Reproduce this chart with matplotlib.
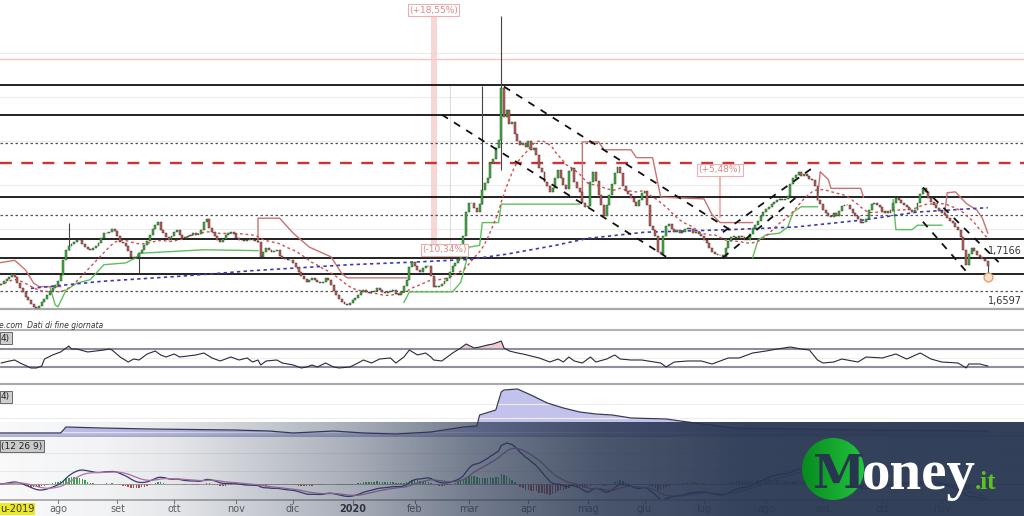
import numpy as np
import pandas as pd
import matplotlib
matplotlib.use('Agg')
import matplotlib.pyplot as plt
from matplotlib.patches import Circle
from matplotlib.transforms import blended_transform_factory as blend

# ---------------- data ----------------
start_date = '2019-07-02'
closes = [
    1.686, 1.687, 1.690, 1.693, 1.695, 1.698, 1.695, 1.688, 1.682, 1.678,
    1.672, 1.669, 1.664, 1.661, 1.660, 1.662, 1.666, 1.670, 1.674, 1.679,
    1.682, 1.686, 1.690, 1.697, 1.714, 1.726, 1.730, 1.733, 1.735, 1.737,
    1.737, 1.733, 1.729, 1.727, 1.726, 1.728, 1.730, 1.734, 1.739, 1.745,
    1.745, 1.746, 1.750, 1.747, 1.742, 1.735, 1.734, 1.730, 1.725, 1.718,
    1.717, 1.718, 1.722, 1.726, 1.731, 1.736, 1.743, 1.750, 1.754, 1.758,
    1.749, 1.745, 1.741, 1.737, 1.742, 1.746, 1.749, 1.743, 1.739, 1.741,
    1.742, 1.743, 1.745, 1.743, 1.744, 1.749, 1.758, 1.761, 1.751, 1.746,
    1.742, 1.737, 1.735, 1.738, 1.743, 1.745, 1.746, 1.744, 1.739, 1.737,
    1.737, 1.736, 1.737, 1.738, 1.737, 1.736, 1.735, 1.718, 1.723, 1.728,
    1.726, 1.723, 1.725, 1.726, 1.719, 1.717, 1.715, 1.714, 1.714, 1.711,
    1.706, 1.701, 1.696, 1.693, 1.689, 1.692, 1.694, 1.692, 1.689, 1.688,
    1.689, 1.694, 1.692, 1.686, 1.679, 1.674, 1.670, 1.666, 1.664, 1.663,
    1.665, 1.669, 1.671, 1.674, 1.678, 1.680, 1.678, 1.677, 1.678, 1.679,
    1.682, 1.680, 1.678, 1.677, 1.678, 1.679, 1.680, 1.676, 1.674, 1.678,
    1.685, 1.692, 1.706, 1.712, 1.707, 1.703, 1.701, 1.705, 1.707, 1.707,
    1.696, 1.684, 1.684, 1.685, 1.687, 1.690, 1.694, 1.701, 1.707, 1.711,
    1.715, 1.726, 1.742, 1.769, 1.779, 1.779, 1.774, 1.769, 1.778, 1.794,
    1.802, 1.808, 1.825, 1.829, 1.842, 1.851, 1.910, 1.877, 1.885, 1.869,
    1.872, 1.858, 1.850, 1.845, 1.848, 1.843, 1.850, 1.840, 1.842, 1.834,
    1.819, 1.815, 1.803, 1.799, 1.792, 1.796, 1.808, 1.817, 1.808, 1.800,
    1.795, 1.816, 1.819, 1.803, 1.796, 1.792, 1.779, 1.775, 1.776, 1.803,
    1.815, 1.804, 1.788, 1.777, 1.765, 1.777, 1.788, 1.801, 1.814, 1.820,
    1.814, 1.799, 1.793, 1.790, 1.785, 1.780, 1.776, 1.783, 1.791, 1.793,
    1.777, 1.753, 1.749, 1.742, 1.723, 1.721, 1.742, 1.753, 1.755, 1.750,
    1.746, 1.749, 1.745, 1.746, 1.750, 1.751, 1.750, 1.745, 1.746, 1.744,
    1.742, 1.737, 1.734, 1.728, 1.723, 1.721, 1.720, 1.720, 1.718, 1.728,
    1.736, 1.741, 1.741, 1.739, 1.742, 1.741, 1.737, 1.737, 1.744, 1.751,
    1.754, 1.759, 1.765, 1.769, 1.773, 1.775, 1.778, 1.780, 1.783, 1.783,
    1.783, 1.784, 1.787, 1.801, 1.808, 1.811, 1.815, 1.810, 1.812, 1.810,
    1.807, 1.806, 1.799, 1.783, 1.778, 1.771, 1.768, 1.765, 1.763, 1.768,
    1.765, 1.770, 1.776, 1.777, 1.777, 1.773, 1.768, 1.765, 1.761, 1.757,
    1.758, 1.761, 1.771, 1.778, 1.779, 1.777, 1.775, 1.770, 1.768, 1.768,
    1.771, 1.779, 1.785, 1.783, 1.779, 1.777, 1.775, 1.771, 1.769, 1.771,
    1.779, 1.790, 1.796, 1.792, 1.785, 1.780, 1.777, 1.774, 1.770, 1.768,
    1.766, 1.762, 1.759, 1.757, 1.752, 1.749, 1.741, 1.726, 1.709, 1.721,
    1.728, 1.725, 1.720, 1.718, 1.715, 1.713, 1.707]

# candles with visible shadows
wick_dates = ['2019-08-07', '2019-09-12', '2020-03-09', '2020-03-18', '2020-11-25']
wick_highs = [1.757, 1.722, 1.913, 1.992, 1.713]
wick_lows = [1.726, 1.699, 1.778, 1.817, 1.694]

# long moving average (dotted blue)
ma_long_dates = ['2019-07-18', '2019-08-23', '2019-10-04', '2019-11-08', '2019-12-31',
                 '2020-02-03', '2020-03-02', '2020-03-20', '2020-04-15', '2020-05-01',
                 '2020-06-01', '2020-07-15', '2020-08-18', '2020-09-22', '2020-10-20',
                 '2020-11-25']
ma_long_vals = [1.682, 1.690, 1.696, 1.702, 1.709, 1.712, 1.715, 1.721, 1.731, 1.739,
                1.746, 1.749, 1.752, 1.760, 1.769, 1.774]

# trailing stops
green_stops = [
    [('2019-07-29', 1.684), ('2019-07-31', 1.663), ('2019-08-01', 1.661), ('2019-08-06', 1.680),
     ('2019-08-12', 1.688), ('2019-08-19', 1.692), ('2019-08-21', 1.699), ('2019-08-26', 1.709),
     ('2019-09-05', 1.711), ('2019-09-11', 1.717), ('2019-09-12', 1.722), ('2019-09-20', 1.723),
     ('2019-10-16', 1.726), ('2019-11-13', 1.725)],
    [('2020-01-28', 1.666), ('2020-01-30', 1.678), ('2020-02-21', 1.678), ('2020-02-26', 1.689),
     ('2020-02-28', 1.712), ('2020-03-02', 1.729), ('2020-03-06', 1.731), ('2020-03-09', 1.757),
     ('2020-03-17', 1.757), ('2020-03-18', 1.778), ('2020-04-28', 1.778)],
    [('2020-07-27', 1.717), ('2020-07-29', 1.737), ('2020-08-03', 1.743), ('2020-08-10', 1.745),
     ('2020-08-13', 1.752), ('2020-08-17', 1.769), ('2020-08-20', 1.775), ('2020-08-28', 1.775)],
    [('2020-10-07', 1.783), ('2020-10-08', 1.749), ('2020-10-16', 1.749), ('2020-10-20', 1.754),
     ('2020-11-02', 1.754)],
]
red_stops = [
    [('2019-07-02', 1.711), ('2019-07-10', 1.714), ('2019-07-16', 1.703), ('2019-07-19', 1.688),
     ('2019-07-23', 1.684), ('2019-08-02', 1.684)],
    [('2019-11-13', 1.735), ('2019-11-13', 1.762), ('2019-11-25', 1.762), ('2019-12-02', 1.745),
     ('2019-12-10', 1.729), ('2019-12-20', 1.718), ('2019-12-26', 1.699), ('2019-12-30', 1.694),
     ('2020-01-29', 1.694)],
    [('2020-04-29', 1.786), ('2020-04-29', 1.849), ('2020-05-07', 1.849), ('2020-05-11', 1.840),
     ('2020-05-25', 1.840), ('2020-05-27', 1.831), ('2020-06-04', 1.831), ('2020-06-09', 1.786),
     ('2020-07-01', 1.784), ('2020-07-06', 1.766), ('2020-07-09', 1.757), ('2020-07-27', 1.757)],
    [('2020-08-28', 1.783), ('2020-08-31', 1.815), ('2020-09-03', 1.806), ('2020-09-04', 1.796),
     ('2020-09-21', 1.796), ('2020-09-22', 1.786)],
    [('2020-11-03', 1.766), ('2020-11-04', 1.791), ('2020-11-09', 1.792), ('2020-11-13', 1.779),
     ('2020-11-19', 1.771), ('2020-11-23', 1.762), ('2020-11-25', 1.745)],
]

trend_lines = [
    (('2020-03-19', 1.912), ('2020-07-16', 1.746)),
    (('2020-02-17', 1.880), ('2020-06-11', 1.718)),
    (('2020-07-10', 1.717), ('2020-08-19', 1.788)),
    (('2020-07-10', 1.746), ('2020-08-26', 1.819)),
    (('2020-10-22', 1.797), ('2020-12-01', 1.712)),
    (('2020-10-22', 1.758), ('2020-11-16', 1.698)),
]

solid_levels = [1.9138, 1.8796, 1.7861, 1.7382, 1.7166, 1.6983]
dotted_levels = [1.8477, 1.7656, 1.6790]
red_level = 1.8249
pink_level = 1.9434
grid_levels = [1.70, 1.75, 1.80, 1.85, 1.90, 1.95]
price_labels = ['1,7166', '1,6597']
price_label_vals = [1.7166, 1.6597]

pct_texts = ['(+18,55%)', '(-10,34%)', '(+5,48%)']
pct_dates = ['2020-02-12', '2020-02-18', '2020-07-09']
pct_prices = [1.999, 1.726, 1.817]

# RSI panel
rsi_dates = ['2019-07-03', '2019-07-08', '2019-07-10', '2019-07-12', '2019-07-18', '2019-07-22',
             '2019-07-24', '2019-07-25', '2019-07-30', '2019-08-02', '2019-08-06', '2019-08-07',
             '2019-08-08', '2019-08-12', '2019-08-16', '2019-08-21', '2019-08-26', '2019-08-28',
             '2019-08-29', '2019-09-03', '2019-09-06', '2019-09-10', '2019-09-12', '2019-09-17',
             '2019-09-20', '2019-09-24', '2019-09-26', '2019-10-01', '2019-10-03', '2019-10-08',
             '2019-10-11', '2019-10-16', '2019-10-21', '2019-10-24', '2019-10-30', '2019-11-04',
             '2019-11-07', '2019-11-11', '2019-11-13', '2019-11-14', '2019-11-18', '2019-11-22',
             '2019-11-26', '2019-12-02', '2019-12-05', '2019-12-09', '2019-12-11', '2019-12-13',
             '2019-12-18', '2019-12-23', '2019-12-25', '2019-12-31', '2020-01-03', '2020-01-07',
             '2020-01-10', '2020-01-15', '2020-01-21', '2020-01-23', '2020-01-28', '2020-01-30',
             '2020-02-04', '2020-02-07', '2020-02-11', '2020-02-12', '2020-02-17', '2020-02-19',
             '2020-02-21', '2020-02-26', '2020-02-28', '2020-03-04', '2020-03-06', '2020-03-11',
             '2020-03-13', '2020-03-18', '2020-03-19', '2020-03-23', '2020-03-26', '2020-03-30',
             '2020-04-02', '2020-04-07', '2020-04-13', '2020-04-16', '2020-04-20', '2020-04-22',
             '2020-04-24', '2020-04-29', '2020-05-04', '2020-05-06', '2020-05-12', '2020-05-15',
             '2020-05-19', '2020-05-25', '2020-05-29', '2020-06-09', '2020-06-11', '2020-06-16',
             '2020-06-23', '2020-06-30', '2020-07-06', '2020-07-14', '2020-07-20', '2020-07-27',
             '2020-08-03', '2020-08-07', '2020-08-14', '2020-08-20', '2020-08-25', '2020-08-28',
             '2020-09-01', '2020-09-07', '2020-09-10', '2020-09-18', '2020-09-23', '2020-10-01',
             '2020-10-08', '2020-10-14', '2020-10-21', '2020-10-27', '2020-11-02', '2020-11-10',
             '2020-11-13', '2020-11-16', '2020-11-20', '2020-11-25']
rsi_vals = [38.6, 43.0, 45.3, 38.6, 27.5, 27.5, 31.9, 47.5, 56.5, 63.2, 72.1, 76.5,
            69.8, 69.8, 63.2, 65.4, 67.6, 69.8, 67.6, 52.0, 40.8, 47.5, 45.3, 58.7,
            65.4, 56.5, 52.0, 58.7, 52.0, 54.2, 56.5, 60.9, 49.8, 43.1, 52.0, 45.3,
            49.8, 40.8, 45.3, 34.2, 43.1, 45.3, 38.6, 34.2, 27.5, 29.7, 34.2, 29.7,
            38.6, 29.7, 27.5, 29.7, 38.6, 45.3, 38.6, 47.5, 49.8, 38.6, 52.0, 67.6,
            56.5, 60.9, 52.0, 45.3, 43.1, 52.0, 60.9, 72.1, 81.0, 72.1, 74.3, 78.8,
            81.0, 87.7, 72.1, 65.4, 60.9, 58.7, 54.2, 49.8, 40.8, 47.5, 40.8, 52.0,
            43.1, 38.6, 52.0, 40.8, 47.5, 56.5, 47.5, 45.3, 45.3, 38.6, 29.7, 40.8,
            43.1, 43.1, 36.4, 49.8, 49.8, 60.9, 65.4, 69.8, 74.3, 69.8, 67.6, 45.3,
            38.6, 40.8, 47.5, 40.8, 52.0, 49.8, 58.7, 47.5, 60.9, 47.5, 40.8, 38.6,
            27.5, 36.4, 36.4, 31.9]

# volatility panel
atr_dates = ['2019-07-02', '2019-08-02', '2019-08-06', '2019-08-23', '2019-09-18', '2019-10-31',
             '2019-11-19', '2019-12-02', '2019-12-23', '2020-01-07', '2020-01-23', '2020-02-11',
             '2020-02-27', '2020-03-05', '2020-03-06', '2020-03-16', '2020-03-18', '2020-03-19',
             '2020-03-26', '2020-04-02', '2020-04-10', '2020-04-20', '2020-04-28', '2020-05-06',
             '2020-05-14', '2020-05-25', '2020-06-11', '2020-06-23', '2020-07-16', '2020-08-19',
             '2020-09-24', '2020-11-25']
atr_vals = [0.0083, 0.0083, 0.0119, 0.0113, 0.0107, 0.0101, 0.0095, 0.0083, 0.0095, 0.0083,
            0.0077, 0.0089, 0.0119, 0.0125, 0.0191, 0.0221, 0.0329, 0.0341, 0.0347, 0.0311,
            0.0263, 0.0233, 0.0209, 0.0197, 0.0191, 0.0173, 0.0167, 0.0149, 0.0113, 0.0107,
            0.0101, 0.0095]

month_labels = ['ago', 'set', 'ott', 'nov', 'dic', '2020', 'feb', 'mar', 'apr', 'mag',
                'giu', 'lug', 'ago', 'set', 'ott', 'nov']

# ---------------- helpers ----------------
W, H = 1024, 516
axis_days = pd.bdate_range(start_date, periods=400)


def xi(d):
    return int(axis_days.searchsorted(pd.Timestamp(d)))


def fax(top_px, bot_px):
    return [0, 1 - bot_px / H, 1, (bot_px - top_px) / H]


XLIM = (0.555, 379.4)

fig = plt.figure(figsize=(W / 100, H / 100), dpi=100)
fig.patch.set_facecolor('white')

bg = fig.add_axes([0, 0, 1, 1], zorder=-5)
bg.set_xlim(0, W)
bg.set_ylim(H, 0)
bg.axis('off')


def style(ax):
    ax.set_xlim(*XLIM)
    ax.set_facecolor('none')
    for s in ax.spines.values():
        s.set_visible(False)
    ax.set_xticks([])
    ax.set_yticks([])


# ---------------- main panel ----------------
ax = fig.add_axes(fax(0, 309))
style(ax)
ax.set_ylim(1.6585, 2.0107)

c = np.array(closes)
o = np.r_[c[0], c[:-1]]
N = len(c)
x = np.arange(N)

for g in grid_levels:
    ax.axhline(g, color='#ececec', lw=0.8, zorder=0)
ax.axhline(pink_level, color='#f0c4c4', lw=1.0, zorder=1)
for lv in solid_levels:
    ax.axhline(lv, color='#111111', lw=1.3, zorder=2)
for lv in dotted_levels:
    ax.axhline(lv, color='#555555', lw=0.9, ls=(0, (2, 2)), zorder=2)
ax.axhline(red_level, color='#cc3333', lw=1.7, ls=(0, (5, 4)), zorder=2)

b = xi(pct_dates[0])
ax.fill_between([b - 1.1, b + 1.1], 1.733, 1.993, color='#f6cccc', alpha=0.8, lw=0, zorder=1)
ax.vlines(xi('2020-02-20'), 1.679, 1.914, color='#dddddd', lw=0.8, zorder=1)
ax.vlines(xi(pct_dates[2]), 1.762, 1.811, color='#f0b8b8', lw=1.5, zorder=1)

for seg in green_stops:
    ax.plot([xi(d) for d, _ in seg], [v for _, v in seg], color='#5cc05c', lw=1.0, zorder=3)
for seg in red_stops:
    ax.plot([xi(d) for d, _ in seg], [v for _, v in seg], color='#c87272', lw=1.0, zorder=3)

sma = pd.Series(c).rolling(20, min_periods=1).mean()
ax.plot(x, sma, color='#d05050', lw=1.0, ls=(0, (2, 2)), zorder=3)
ax.plot([xi(d) for d in ma_long_dates], ma_long_vals, color='#3a3ab4', lw=1.2,
        ls=(0, (2, 2)), zorder=3)

for (d1, v1), (d2, v2) in trend_lines:
    ax.plot([xi(d1), xi(d2)], [v1, v2], color='#111111', lw=1.3, ls=(0, (4, 4)), zorder=5)

for d, hi, lo in zip(wick_dates, wick_highs, wick_lows):
    ax.vlines(xi(d), lo, hi, color='#444444', lw=0.8, zorder=4)
up = c >= o
lo_b = np.minimum(o, c)
h_b = np.maximum(np.abs(c - o), 0.0006)
ax.bar(x[up], h_b[up], bottom=lo_b[up], width=0.72, color='#40b040', edgecolor='#2a4a2a',
       linewidth=0.35, zorder=4)
ax.bar(x[~up], h_b[~up], bottom=lo_b[~up], width=0.72, color='#c2625c', edgecolor='#4a2a2a',
       linewidth=0.35, zorder=4)

ax.scatter([xi(wick_dates[-1])], [1.695], s=40, facecolor='#fde3cc', edgecolor='#e8a070',
           lw=1.0, zorder=6)

for t, d, p in zip(pct_texts, pct_dates, pct_prices):
    ax.text(xi(d), p, t, ha='center', va='center', fontsize=6.5, color='#d88888', zorder=7,
            bbox=dict(boxstyle='square,pad=0.15', fc='white', ec='#e8b0b0', lw=0.8))

for t, v in zip(price_labels, price_label_vals):
    ax.text(XLIM[1] - 0.8, v + 0.002, t, ha='right', va='bottom', fontsize=7, color='#333333')

fig.text(-0.001, 1 - 326 / H, 'e.com  Dati di fine giornata', fontsize=5.5, style='italic',
         color='#333333', va='center', ha='left')

# ---------------- RSI panel ----------------
ar = fig.add_axes(fax(331, 383))
style(ar)
ar.set_ylim(-6, 110)
rx = np.array([xi(d) for d in rsi_dates])
rv = np.array(rsi_vals)
ar.axhline(50, color='#eeeeee', lw=0.8)
ar.axhline(70, color='#8e8e9e', lw=1.5)
ar.axhline(30, color='#8e8e9e', lw=1.5)
ar.fill_between(rx, 70, rv, where=rv > 70, color='#f2cccc', lw=0, interpolate=True)
ar.plot(rx, rv, color='#2a2a3a', lw=0.8)

# ---------------- volatility panel ----------------
aa = fig.add_axes(fax(384, 436))
style(aa)
aa.set_ylim(0.0065, 0.0377)
for g in [0.0089, 0.0173, 0.0257]:
    aa.axhline(g, color='#eeeeee', lw=0.8)
ax_atr = [xi(d) for d in atr_dates]
aa.fill_between(ax_atr, 0.0065, atr_vals, color='#b8b8ea', alpha=0.85, lw=0)
aa.plot(ax_atr, atr_vals, color='#3a3a5a', lw=0.9)

# ---------------- MACD panel ----------------
am = fig.add_axes(fax(437, 499))
style(am)
s = pd.Series(c)
macd = s.ewm(span=12, adjust=False).mean() - s.ewm(span=26, adjust=False).mean()
sig = macd.ewm(span=9, adjust=False).mean()
hist = (macd - sig).values
hi_lim = macd.max() / 0.872
am.set_ylim(-0.319 * hi_lim, hi_lim)
for g in [0.45, 0.75]:
    am.axhline(-0.319 * hi_lim + g * 1.319 * hi_lim, color='#eeeeee', lw=0.8)
am.axhline(0, color='#999999', lw=0.6)
am.bar(x, hist, width=0.55, color=np.where(hist >= 0, '#3fa64a', '#c04a4a'), lw=0)
am.plot(x, macd, color='#3a3a78', lw=0.9)
am.plot(x, sig, color='#b878a8', lw=0.9)

tr = blend(am.transData, fig.transFigure)
months = pd.Series(axis_days[:N]).dt.to_period('M')
starts = [i for i in range(1, N) if months[i] != months[i - 1]]
for i, lab in zip(starts, month_labels):
    bold = lab == '2020'
    am.text(i, 1 - 509 / H, lab, transform=tr, ha='center', va='center', fontsize=7,
            color='#333333' if bold else '#666666', fontweight='bold' if bold else 'normal',
            clip_on=False)
    am.plot([i, i], [1 - 500 / H, 1 - 503 / H], transform=tr, color='#888888', lw=0.8,
            clip_on=False)
fig.text(0.0, 1 - 509 / H, 'u-2019', fontsize=7, color='#333333', va='center', ha='left',
         bbox=dict(boxstyle='square,pad=0.1', fc='#f5f020', ec='none'))

for ypx, t in [(338, '4)'), (397, '4)'), (446, '(12 26 9)')]:
    fig.text(0.001, 1 - ypx / H, t, fontsize=6.5, color='#222222', va='center', ha='left',
             bbox=dict(boxstyle='square,pad=0.15', fc='#cfcfcf', ec='#555555', lw=0.6))

for ypx, col, lw in [(309, '#a8a8a8', 1.6), (330, '#b4b4b4', 1.5), (384, '#a8a8a8', 1.5),
                     (436, '#a8a8a8', 1.2), (500, '#a8a8a8', 1.2)]:
    bg.axhline(ypx, color=col, lw=lw)

# ---------------- banner overlay ----------------
bh = 94.5
ban = fig.add_axes([0, 0, 1, bh / H], zorder=10)
ban.set_xlim(0, W)
ban.set_ylim(0, bh)
ban.axis('off')
xs = np.linspace(0, W, 512)
alpha = np.interp(xs, [0, 100, 170, 350, 470, 600, 750, W],
                  [0.03, 0.06, 0.12, 0.40, 0.65, 0.84, 0.94, 0.95])
img = np.zeros((1, 512, 4))
img[..., 0] = 39 / 255
img[..., 1] = 53 / 255
img[..., 2] = 80 / 255
img[..., 3] = alpha
ban.imshow(img, aspect='auto', extent=[0, W, 0, bh], interpolation='bilinear', zorder=0)

cx, cy, r = 833, 516 - 469, 31
grad = np.zeros((2, 64, 4))
g0 = np.array([7, 138, 30]) / 255
g1 = np.array([34, 196, 62]) / 255
tt = np.linspace(0, 1, 64)[:, None]
grad[:, :, :3] = (g0 * (1 - tt) + g1 * tt)[None, :, :]
grad[:, :, 3] = 1
im = ban.imshow(grad, aspect='auto', extent=[cx - r, cx + r, cy - r, cy + r],
                interpolation='bilinear', zorder=2)
circ = Circle((cx, cy), r, transform=ban.transData, fc='none', ec='none')
ban.add_patch(circ)
im.set_clip_path(circ)
ban.text(813, 28, 'M', fontsize=34, fontweight='bold', family='DejaVu Serif', color='#27354f',
         ha='left', va='baseline', zorder=3)
ban.text(862, 27, 'oney', fontsize=41, fontweight='bold', family='Liberation Serif',
         color='white', ha='left', va='baseline', zorder=3)
ban.text(975, 27, '.it', fontsize=18, fontweight='bold', family='Liberation Serif',
         color='#5cc21e', ha='left', va='baseline', zorder=3)

fig.savefig('out.png', dpi=100)
